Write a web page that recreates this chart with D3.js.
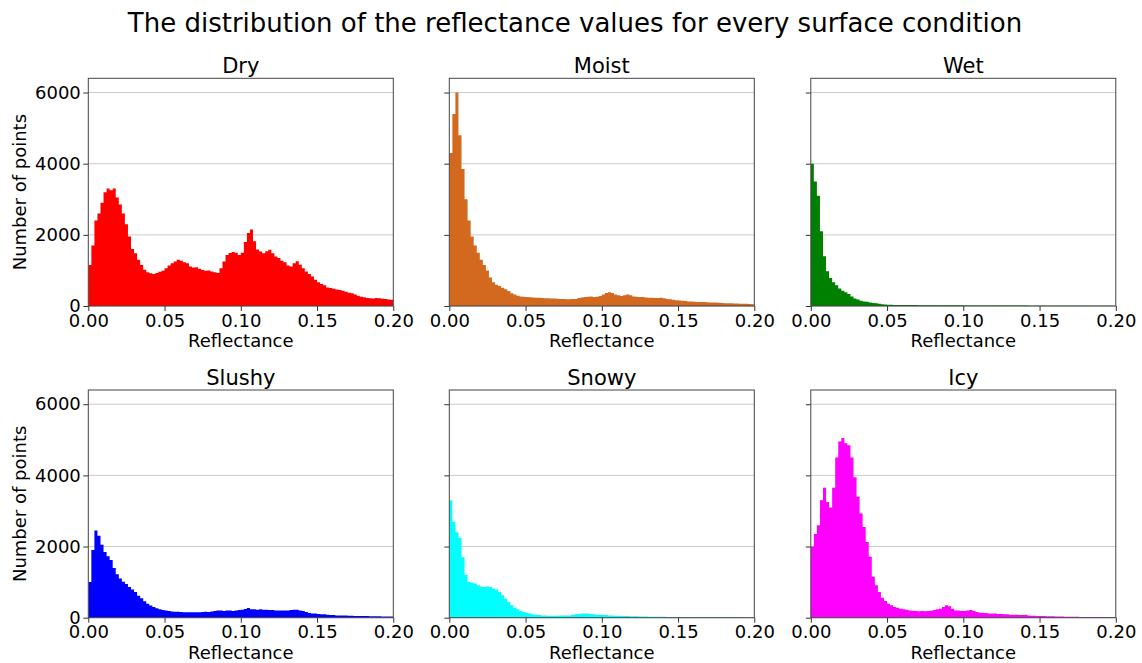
<!DOCTYPE html>
<html>
<head>
<meta charset="utf-8">
<script src="https://cdn.jsdelivr.net/npm/d3@7"></script>
<style>
  body { margin: 0; background: #fff; }
  svg text { font-family: "DejaVu Sans", sans-serif; fill: #000; }
</style>
</head>
<body>
<script>

// histogram counts, bin width 0.002, from 0.000 to 0.200 (100 bins each)
var binWidth = 0.002;

var dry = [
    1150, 1700, 2400, 2600, 2900, 3200, 3300, 3250, 3300, 3050,
    2850, 2600, 2300, 1950, 1600, 1480, 1300, 1150, 1020, 950,
    920, 900, 930, 960, 990, 1060, 1140, 1200, 1250, 1300,
    1270, 1230, 1200, 1110, 1080, 1090, 1050, 1010, 990, 1000,
    970, 950, 930, 1060, 1250, 1430, 1490, 1520, 1500, 1430,
    1500, 1800, 2050, 2150, 1820, 1590, 1530, 1480, 1540, 1580,
    1480, 1390, 1350, 1270, 1230, 1140, 1110, 1200, 1260, 1160,
    1060, 970, 900, 830, 740, 670, 615, 580, 520, 505,
    485, 465, 450, 430, 400, 375, 355, 320, 285, 260,
    245, 225, 215, 210, 225, 215, 205, 200, 185, 175
];

var moist = [
    4300, 5400, 6000, 4800, 3850, 3000, 2400, 1950, 1700, 1500,
    1300, 1150, 1000, 800, 670, 600, 560, 510, 470, 420,
    360, 320, 285, 270, 260, 250, 245, 240, 235, 230,
    225, 220, 215, 212, 208, 205, 200, 195, 190, 190,
    195, 200, 225, 240, 250, 260, 270, 250, 260, 280,
    320, 365, 390, 365, 320, 300, 280, 300, 320, 300,
    270, 260, 250, 250, 240, 235, 235, 225, 225, 235,
    215, 200, 190, 175, 165, 155, 145, 140, 130, 125,
    120, 115, 110, 110, 105, 100, 95, 95, 90, 85,
    80, 80, 75, 70, 70, 65, 60, 60, 55, 50
];

var wet = [
    4000, 3500, 3100, 2100, 1400, 980, 790, 670, 580, 490,
    430, 390, 335, 270, 210, 180, 150, 130, 120, 100,
    85, 75, 60, 50, 42, 36, 32, 30, 30, 28,
    27, 27, 26, 25, 25, 24, 24, 23, 22, 22,
    21, 21, 20, 20, 20, 19, 19, 18, 18, 18,
    17, 17, 16, 16, 16, 15, 15, 15, 14, 14,
    14, 13, 13, 13, 12, 12, 12, 12, 11, 11,
    11, 10, 10, 10, 10, 9, 9, 9, 9, 8,
    8, 8, 8, 7, 7, 7, 7, 6, 6, 6,
    6, 5, 5, 5, 5, 4, 4, 4, 4, 3
];

var slushy = [
    1000, 1900, 2450, 2300, 2050, 1850, 1730, 1620, 1400, 1220,
    1100, 1010, 950, 860, 790, 720, 620, 550, 460, 390,
    340, 300, 265, 235, 215, 200, 185, 175, 170, 165,
    160, 155, 150, 150, 155, 150, 150, 160, 165, 160,
    175, 190, 205, 200, 190, 200, 200, 190, 205, 215,
    225, 245, 270, 235, 235, 225, 235, 225, 225, 215,
    215, 205, 200, 200, 200, 205, 215, 225, 225, 205,
    190, 160, 130, 120, 115, 105, 95, 95, 85, 75,
    75, 65, 65, 60, 60, 55, 55, 50, 50, 48,
    45, 45, 42, 40, 40, 38, 36, 35, 35, 32
];

var snowy = [
    3300, 2700, 2400, 2250, 1700, 1200, 1000, 980, 960, 910,
    880, 860, 880, 860, 820, 790, 720, 630, 535, 440,
    350, 280, 235, 190, 160, 130, 115, 95, 85, 75,
    65, 65, 55, 55, 55, 55, 65, 65, 65, 65,
    85, 95, 105, 115, 120, 115, 105, 95, 85, 85,
    75, 75, 65, 65, 55, 55, 47, 47, 45, 42,
    40, 38, 36, 34, 32, 30, 28, 27, 26, 25,
    24, 22, 21, 20, 19, 18, 18, 17, 17, 16,
    16, 15, 15, 14, 14, 14, 13, 13, 12, 12,
    12, 11, 11, 11, 10, 10, 10, 9, 9, 9
];

var icy = [
    2000, 2350, 2600, 3300, 3650, 3250, 3100, 3650, 4500, 4950,
    5050, 4900, 4850, 4500, 3950, 3400, 2930, 2550, 2130, 1710,
    1150, 910, 720, 560, 470, 395, 350, 300, 280, 255,
    235, 225, 205, 195, 190, 180, 190, 180, 190, 195,
    215, 235, 255, 300, 350, 320, 255, 205, 205, 190,
    190, 205, 215, 190, 160, 140, 130, 130, 120, 115,
    115, 105, 105, 95, 95, 85, 85, 85, 75, 75,
    85, 65, 55, 55, 50, 48, 45, 42, 40, 38,
    36, 34, 32, 30, 28, 26, 25, 24, 23, 22,
    21, 20, 20, 19, 18, 18, 17, 16, 16, 15
];

var conditions = ["Dry", "Moist", "Wet", "Slushy", "Snowy", "Icy"];
var colors = ["#ff0000", "#d2691e", "#008000", "#0000ff", "#00ffff", "#ff00ff"];
var series = [dry, moist, wet, slushy, snowy, icy];
var xTicks = [0, 0.05, 0.10, 0.15, 0.20];
var yTicks = [0, 2000, 4000, 6000];

var W = 1142, H = 663;
var colLeft = [88.3, 449.3, 810.8];
var rowTop = [78.3, 390];
var pw = 305, ph = 227.7;

var svg = d3.select("body").append("svg")
    .attr("width", W)
    .attr("height", H);

svg.append("rect").attr("width", W).attr("height", H).attr("fill", "#fff");

svg.append("text")
    .attr("x", 575)
    .attr("y", 32)
    .attr("text-anchor", "middle")
    .attr("font-size", "26px")
    .text("The distribution of the reflectance values for every surface condition");

var x = d3.scaleLinear().domain([0, 0.2]).range([0, pw]);
var y = d3.scaleLinear().domain([0, 6400]).range([ph, 0]);

var area = d3.area()
    .x(function (d) { return x(d.x0); })
    .y0(y(0))
    .y1(function (d) { return y(d.v); })
    .curve(d3.curveStepAfter);

conditions.forEach(function (name, k) {
    var col = k % 3, row = Math.floor(k / 3);
    var g = svg.append("g")
        .attr("transform", "translate(" + colLeft[col] + "," + rowTop[row] + ")");

    g.append("clipPath").attr("id", "clip" + k)
        .append("rect").attr("width", pw).attr("height", ph);

    // horizontal grid behind bars
    g.selectAll(".grid")
        .data(yTicks)
        .enter().append("line")
        .attr("x1", 0).attr("x2", pw)
        .attr("y1", function (d) { return y(d); })
        .attr("y2", function (d) { return y(d); })
        .attr("stroke", "#cccccc")
        .attr("stroke-width", 1);

    var vals = series[k];
    var pts = vals.map(function (v, i) { return { x0: i * binWidth, v: v }; });
    pts.push({ x0: vals.length * binWidth, v: vals[vals.length - 1] });

    g.append("path")
        .datum(pts)
        .attr("clip-path", "url(#clip" + k + ")")
        .attr("fill", colors[k])
        .attr("d", area);

    // x axis
    var xa = g.append("g")
        .attr("transform", "translate(0," + ph + ")")
        .call(d3.axisBottom(x).tickValues(xTicks).tickFormat(d3.format(".2f"))
            .tickSize(5).tickPadding(3));
    xa.select(".domain").remove();
    xa.selectAll("line").attr("stroke", "#333");
    xa.selectAll("text").attr("font-size", "18px").attr("fill", "#000");

    // y axis
    var ya = g.append("g")
        .call(d3.axisLeft(y).tickValues(yTicks)
            .tickFormat(col === 0 ? d3.format("d") : function () { return ""; })
            .tickSize(5).tickPadding(2.5));
    ya.select(".domain").remove();
    ya.selectAll("line").attr("stroke", "#333");
    ya.selectAll("text").attr("font-size", "18px").attr("fill", "#000");

    // frame
    g.append("rect")
        .attr("width", pw).attr("height", ph)
        .attr("fill", "none")
        .attr("stroke", "#444")
        .attr("stroke-width", 1);

    g.append("text")
        .attr("x", pw / 2)
        .attr("y", -5.5)
        .attr("text-anchor", "middle")
        .attr("font-size", "21px")
        .text(name);

    g.append("text")
        .attr("x", pw / 2)
        .attr("y", ph + 41.5)
        .attr("text-anchor", "middle")
        .attr("font-size", "18px")
        .text("Reflectance");

    if (col === 0) {
        g.append("text")
            .attr("transform", "translate(-62," + (ph / 2) + ") rotate(-90)")
            .attr("text-anchor", "middle")
            .attr("font-size", "18px")
            .text("Number of points");
    }
});

</script>
</body>
</html>
